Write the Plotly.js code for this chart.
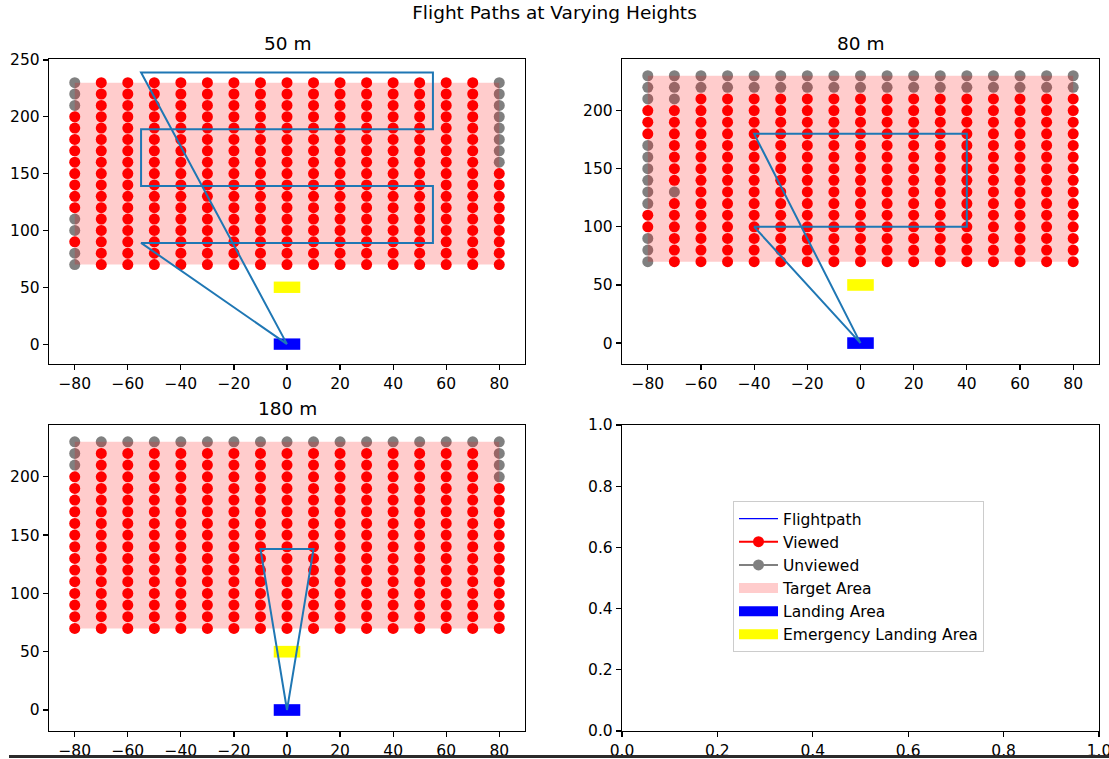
<!DOCTYPE html>
<html>
<head>
<meta charset="utf-8">
<script src="https://cdn.plot.ly/plotly-3.0.1.min.js"></script>
<style>
  html, body { margin: 0; padding: 0; background: #ffffff; }
  #chart { width: 1109px; height: 759px; }
</style>
</head>
<body>
<div id="chart"></div>
<script>
// ---------------- data ----------------
const heights = ['50 m', '80 m', '180 m'];
const gridX = [-80, -70, -60, -50, -40, -30, -20, -10, 0, 10, 20, 30, 40, 50, 60, 70, 80];
const gridY = [70, 80, 90, 100, 110, 120, 130, 140, 150, 160, 170, 180, 190, 200, 210, 220, 230];

// unviewed (grey) points per height
const unviewed50X = [-80, -80, -80, -80, -80, -80, -80, 80, 80, 80, 80, 80, 80, 80, 80];
const unviewed50Y = [230, 220, 210, 110, 100, 80, 70, 230, 220, 210, 200, 190, 180, 170, 160];

const unviewed80X = [-80, -60, -50, -40, -30, -20, -10, 0, 10, 20, 30, 40, 50, 60, 70, 80,
                     -80, -60, -50, -40, -30, -20, -10, 0, 10, 20, 30, 40, 50, 60, 70, 80,
                     -70, -70,
                     -80, -80, -80, -80, -80, -80, -80, -80, -80, -80, -70, -70];
const unviewed80Y = [230, 230, 230, 230, 230, 230, 230, 230, 230, 230, 230, 230, 230, 230, 230, 230,
                     220, 220, 220, 220, 220, 220, 220, 220, 220, 220, 220, 220, 220, 220, 220, 220,
                     230, 220,
                     210, 170, 160, 150, 140, 130, 120, 90, 80, 70, 210, 130];

const unviewed180X = [-80, -70, -60, -50, -40, -30, -20, -10, 0, 10, 20, 30, 40, 50, 60, 70, 80,
                      -80, -80, 80, 80, 80];
const unviewed180Y = [230, 230, 230, 230, 230, 230, 230, 230, 230, 230, 230, 230, 230, 230, 230, 230, 230,
                      220, 210, 220, 210, 200];

// flight paths
const path50X = [0, -55, 55, 55, -55, -55, 55, 55, -55, 0];
const path50Y = [0, 239, 239, 189, 189, 139, 139, 89, 89, 0];
const path80X = [0, -40, 40, 40, -40, 0];
const path80Y = [0, 180, 180, 100, 100, 0];
const path180X = [0, -10, 10, 0];
const path180Y = [0, 138, 138, 0];

// areas (x extent, y extent)
const targetX = [-80, 80];
const targetY = [70, 230];
const landingX = [-5, 5];
const landingY = [-5, 5];
const emergencyX = [-5, 5];
const emergencyY = [45, 55];

// tick values
const xTicks = [-80, -60, -40, -20, 0, 20, 40, 60, 80];
const yTicks50 = [0, 50, 100, 150, 200, 250];
const yTicks = [0, 50, 100, 150, 200];
const unitTicks = [0, 0.2, 0.4, 0.6, 0.8, 1.0];
const unitTickText = ['0.0', '0.2', '0.4', '0.6', '0.8', '1.0'];

// legend labels
const legendLabels = ['Flightpath', 'Viewed', 'Unviewed', 'Target Area', 'Landing Area', 'Emergency Landing Area'];

// ---------------- helpers ----------------
function rectX(ex) { return [ex[0], ex[1], ex[1], ex[0], ex[0]]; }
function rectY(ey) { return [ey[0], ey[0], ey[1], ey[1], ey[0]]; }

function splitGrid(ux, uy) {
  const key = new Set(ux.map((x, i) => x + ',' + uy[i]));
  const vx = [], vy = [], gx = [], gy = [];
  gridX.forEach(x => gridY.forEach(y => {
    if (key.has(x + ',' + y)) { gx.push(x); gy.push(y); }
    else { vx.push(x); vy.push(y); }
  }));
  return { vx, vy, gx, gy };
}

const RED = '#ff0000', GREY = '#808080', PATHC = '#1f77b4';
const MS = 11;

const panels = [
  { ux: unviewed50X, uy: unviewed50Y, px: path50X, py: path50Y, xa: 'x', ya: 'y' },
  { ux: unviewed80X, uy: unviewed80Y, px: path80X, py: path80Y, xa: 'x2', ya: 'y2' },
  { ux: unviewed180X, uy: unviewed180Y, px: path180X, py: path180Y, xa: 'x3', ya: 'y3' }
];

const traces = [];
panels.forEach(p => {
  const g = splitGrid(p.ux, p.uy);
  traces.push({ x: g.vx, y: g.vy, xaxis: p.xa, yaxis: p.ya, type: 'scatter', mode: 'markers',
    marker: { color: RED, size: MS, line: { width: 0 } }, showlegend: false, hoverinfo: 'skip' });
  traces.push({ x: g.gx, y: g.gy, xaxis: p.xa, yaxis: p.ya, type: 'scatter', mode: 'markers',
    marker: { color: GREY, size: MS, line: { width: 0 } }, showlegend: false, hoverinfo: 'skip' });
  traces.push({ x: rectX(targetX), y: rectY(targetY), xaxis: p.xa, yaxis: p.ya, type: 'scatter', mode: 'lines',
    fill: 'toself', fillcolor: 'rgba(255,0,0,0.2)', line: { width: 0 }, showlegend: false, hoverinfo: 'skip' });
  traces.push({ x: rectX(emergencyX), y: rectY(emergencyY), xaxis: p.xa, yaxis: p.ya, type: 'scatter', mode: 'lines',
    fill: 'toself', fillcolor: '#ffff00', line: { width: 0 }, showlegend: false, hoverinfo: 'skip' });
  traces.push({ x: rectX(landingX), y: rectY(landingY), xaxis: p.xa, yaxis: p.ya, type: 'scatter', mode: 'lines',
    fill: 'toself', fillcolor: '#0000ff', line: { width: 0 }, showlegend: false, hoverinfo: 'skip' });
  traces.push({ x: p.px, y: p.py, xaxis: p.xa, yaxis: p.ya, type: 'scatter', mode: 'lines',
    line: { color: PATHC, width: 2 }, showlegend: false, hoverinfo: 'skip' });
});

// legend entries (no data of their own)
const legendStyles = [
  { mode: 'lines', line: { color: '#0000ff', width: 1.2 } },
  { mode: 'lines+markers', line: { color: RED, width: 2 }, marker: { color: RED, size: MS } },
  { mode: 'lines+markers', line: { color: GREY, width: 2 }, marker: { color: GREY, size: MS } },
  { mode: 'lines', line: { color: '#ffcccc', width: 11 } },
  { mode: 'lines', line: { color: '#0000ff', width: 11 } },
  { mode: 'lines', line: { color: '#ffff00', width: 11 } }
];
legendLabels.forEach((name, i) => {
  traces.push(Object.assign({ x: [null], y: [null], xaxis: 'x4', yaxis: 'y4', type: 'scatter',
    name: name, showlegend: true, legendrank: i + 1, hoverinfo: 'skip' }, legendStyles[i]));
});

// ---------------- layout ----------------
const FONT = 'DejaVu Sans, Liberation Sans, sans-serif';
const TICKF = { family: FONT, size: 15.5, color: '#000000' };
const W = 1109, H = 759;
const L = 49, R = 10, T = 59, B = 28;
const PW = W - L - R, PH = H - T - B;

function dom(a, b, total) { return [a / total, b / total]; }
const xd1 = dom(0, 476, PW), xd2 = dom(622 - L, 1099 - L, PW);
const yd1 = [(H - B - 364) / PH, 1], yd3 = [0, (H - B - 425) / PH];

function axis(extra) {
  return Object.assign({
    showline: true, mirror: true, linecolor: '#000000', linewidth: 1.2,
    ticks: 'outside', ticklen: 5, tickwidth: 1.2, tickcolor: '#000000',
    showgrid: false, zeroline: false, tickfont: TICKF, fixedrange: true,
    ticklabeloverflow: 'allow'
  }, extra);
}

const layout = {
  width: W, height: H,
  margin: { l: L, r: R, t: T, b: B, pad: 0 },
  paper_bgcolor: '#ffffff', plot_bgcolor: '#ffffff',
  font: { family: FONT, color: '#000000' },
  title: { text: 'Flight Paths at Varying Heights', x: 0.5, xanchor: 'center',
    y: 1 - 13 / H, yanchor: 'middle', yref: 'container', font: { family: FONT, size: 18.5, color: '#000000' } },
  showlegend: true,
  legend: {
    x: (733 - L) / PW, y: (H - B - 501) / PH, xanchor: 'left', yanchor: 'top',
    bgcolor: '#ffffff', bordercolor: '#cccccc', borderwidth: 1, itemwidth: 39,
    font: { family: FONT, size: 15.5, color: '#000000' }, traceorder: 'normal'
  },
  xaxis:  axis({ domain: xd1, anchor: 'y',  range: [-89.7, 89.7], tickvals: xTicks }),
  yaxis:  axis({ domain: yd1, anchor: 'x',  range: [-17.5, 250.8], tickvals: yTicks50 }),
  xaxis2: axis({ domain: xd2, anchor: 'y2', range: [-89.7, 89.7], tickvals: xTicks }),
  yaxis2: axis({ domain: yd1, anchor: 'x2', range: [-18, 244.4], tickvals: yTicks }),
  xaxis3: axis({ domain: xd1, anchor: 'y3', range: [-89.7, 89.7], tickvals: xTicks }),
  yaxis3: axis({ domain: yd3, anchor: 'x3', range: [-18, 244.4], tickvals: yTicks }),
  xaxis4: axis({ domain: xd2, anchor: 'y4', range: [0, 1], tickvals: unitTicks, ticktext: unitTickText }),
  yaxis4: axis({ domain: yd3, anchor: 'x4', range: [0, 1], tickvals: unitTicks, ticktext: unitTickText }),
  annotations: [
    { text: heights[0], xref: 'paper', yref: 'paper', x: (xd1[0] + xd1[1]) / 2, y: (H - B - 43) / PH,
      xanchor: 'center', yanchor: 'middle', showarrow: false, font: { family: FONT, size: 18.5, color: '#000000' } },
    { text: heights[1], xref: 'paper', yref: 'paper', x: (xd2[0] + xd2[1]) / 2, y: (H - B - 43) / PH,
      xanchor: 'center', yanchor: 'middle', showarrow: false, font: { family: FONT, size: 18.5, color: '#000000' } },
    { text: heights[2], xref: 'paper', yref: 'paper', x: (xd1[0] + xd1[1]) / 2, y: (H - B - 408) / PH,
      xanchor: 'center', yanchor: 'middle', showarrow: false, font: { family: FONT, size: 18.5, color: '#000000' } }
  ],
  shapes: [
    { type: 'line', xref: 'paper', yref: 'paper', x0: (9 - L) / PW, x1: (W - L) / PW,
      y0: -(756.5 - (H - B)) / PH, y1: -(756.5 - (H - B)) / PH, line: { color: '#2b2b2b', width: 3 } }
  ]
};

Plotly.newPlot('chart', traces, layout, { staticPlot: true, displayModeBar: false });
</script>
</body>
</html>
